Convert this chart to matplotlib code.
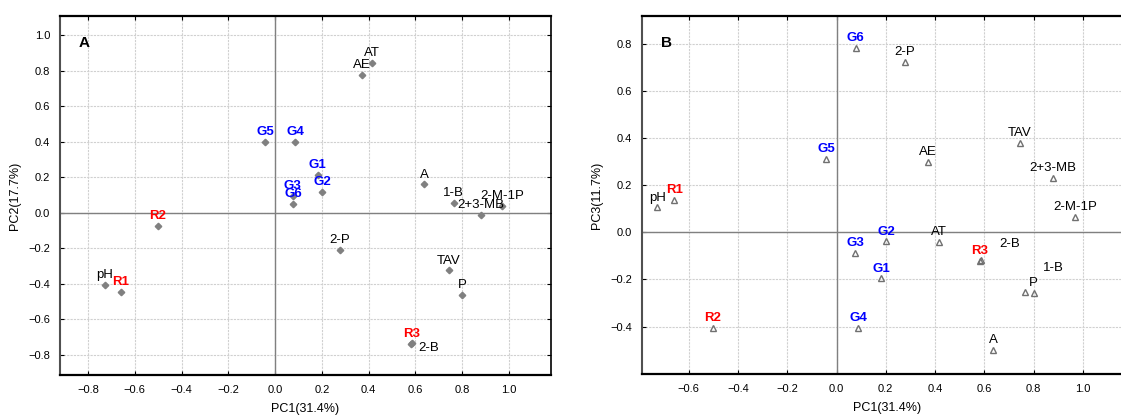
import matplotlib
matplotlib.use("Agg")
import matplotlib.pyplot as plt
import numpy as np

plt.rcParams["font.family"] = ["Liberation Sans", "DejaVu Sans"]

# Loadings / scores
names = ["AT", "AE", "G5", "G4", "G1", "G2", "G3", "G6", "A", "1-B",
         "2+3-MB", "2-M-1P", "R2", "2-P", "TAV", "P", "pH", "R1", "R3", "2-B"]
pc1 = [0.415, 0.370, -0.043, 0.087, 0.182, 0.202, 0.075, 0.078, 0.637, 0.764,
       0.880, 0.970, -0.502, 0.277, 0.744, 0.800, -0.728, -0.659, 0.582, 0.585]
pc2 = [0.845, 0.777, 0.400, 0.400, 0.212, 0.116, 0.095, 0.050, 0.159, 0.054,
       -0.015, 0.040, -0.077, -0.208, -0.325, -0.462, -0.409, -0.445, -0.738, -0.735]
pc3 = [-0.042, 0.300, 0.309, -0.405, -0.196, -0.039, -0.089, 0.780, -0.500, -0.255,
       0.232, 0.063, -0.407, 0.724, 0.379, -0.258, 0.105, 0.138, -0.120, -0.118]

W, H = 1121, 416
fig = plt.figure(figsize=(W / 100, H / 100), dpi=100)


def style_label(name):
    if name.startswith("G") and name[1:].isdigit():
        return dict(color="#0000ff", fontweight="bold")
    if name.startswith("R") and name[1:].isdigit():
        return dict(color="#ff0000", fontweight="bold")
    return dict(color="black")


def draw_panel(ax, x, y, marker, offsets, letter):
    ax.axhline(0, color="#808080", lw=1.0, zorder=1)
    ax.axvline(0, color="#808080", lw=1.0, zorder=1)
    ax.grid(True, color="#d0d0d0", linestyle=(0, (2, 1)), lw=0.8, zorder=0)
    if marker == "D":
        ax.plot(x, y, "D", ms=3.3, color="#808080", zorder=3)
    else:
        ax.plot(x, y, "^", ms=5, mfc="none", mec="#707070", mew=1.0, zorder=3)
    for nm, xi, yi in zip(names, x, y):
        dx, dy, ha = offsets.get(nm, (0, 5, "center"))
        ax.annotate(nm, (xi, yi), xytext=(dx, dy), textcoords="offset points",
                    ha=ha, va="baseline", fontsize=9.5, zorder=4, **style_label(nm))
    ax.text(0.05, 0.925, letter, transform=ax.transAxes, fontsize=11,
            fontweight="bold", ha="center", va="center")
    for side in ["top", "bottom"]:
        ax.spines[side].set_linewidth(1.6)
        ax.spines[side].set_color("black")
    ax.spines["left"].set_linewidth(1.5)
    ax.spines["left"].set_color("#505050")
    ax.spines["right"].set_linewidth(1.2)
    ax.tick_params(direction="in", length=3, width=0.8, labelsize=8,
                   top=True, right=True, pad=7)
    ax.set_axisbelow(True)


# Panel A: PC1 vs PC2
axA = fig.add_axes([60 / W, (H - 375) / H, (551 - 60) / W, (375 - 16) / H])
offA = {"2-B": (4.5, -5.5, "left")}
draw_panel(axA, pc1, pc2, "D", offA, "A")
axA.set_xlim(-0.92, 1.18)
axA.set_ylim(-0.913, 1.107)
axA.set_xticks(np.round(np.arange(-0.8, 1.01, 0.2), 1))
axA.set_yticks(np.round(np.arange(-0.8, 1.01, 0.2), 1))
axA.set_xlabel("PC1(31.4%)", fontsize=9, labelpad=6)
axA.set_ylabel("PC2(17.7%)", fontsize=9, labelpad=5)

# Panel B: PC1 vs PC3
axB = fig.add_axes([642 / W, (H - 374) / H, (1132 - 642) / W, (374 - 16) / H])
offB = {"2-B": (21, 9.4, "center"), "1-B": (21, 15.6, "center")}
draw_panel(axB, pc1, pc3, "^", offB, "B")
axB.set_xlim(-0.79, 1.2)
axB.set_ylim(-0.601, 0.917)
axB.set_xticks(np.round(np.arange(-0.6, 1.01, 0.2), 1))
axB.set_yticks(np.round(np.arange(-0.4, 0.81, 0.2), 1))
axB.set_xlabel("PC1(31.4%)", fontsize=9, labelpad=6)
axB.set_ylabel("PC3(11.7%)", fontsize=9, labelpad=5)

fig.savefig("out.png", dpi=100)
